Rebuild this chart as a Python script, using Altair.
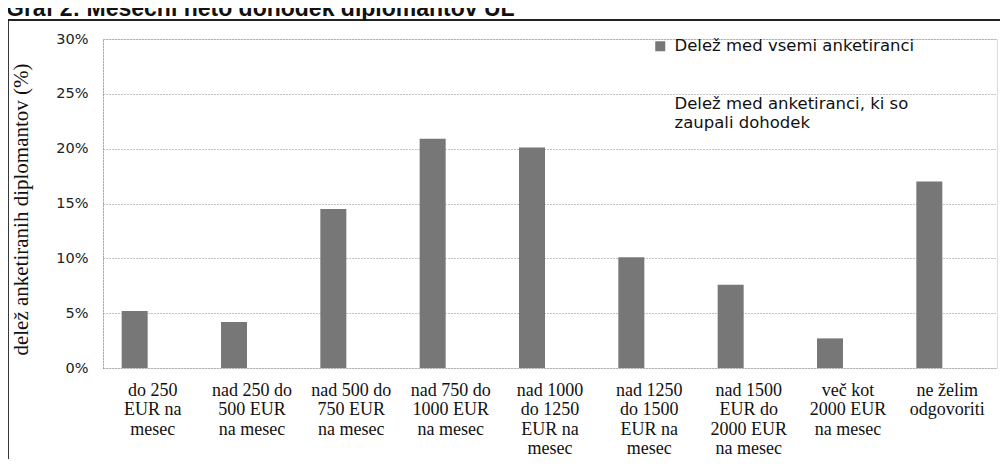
import altair as alt
import pandas as pd

title_text = "Graf 2: Mesečni neto dohodek diplomantov UL"

categories = [
    "do 250\nEUR na\nmesec",
    "nad 250 do\n500 EUR\nna mesec",
    "nad 500 do\n750 EUR\nna mesec",
    "nad 750 do\n1000 EUR\nna mesec",
    "nad 1000\ndo 1250\nEUR na\nmesec",
    "nad 1250\ndo 1500\nEUR na\nmesec",
    "nad 1500\nEUR do\n2000 EUR\nna mesec",
    "več kot\n2000 EUR\nna mesec",
    "ne želim\nodgovoriti",
]
values_all = [5.2, 4.2, 14.5, 20.9, 20.1, 10.1, 7.6, 2.7, 17.0]

series_names = [
    "Delež med vsemi anketiranci",
    "Delež med anketiranci, ki so zaupali dohodek",
]
y_ticks = [0, 5, 10, 15, 20, 25, 30]
y_title = "delež anketiranih diplomantov (%)"

df = pd.DataFrame({
    "kategorija": categories,
    "delez": values_all,
    "serija": [series_names[0]] * len(categories),
})

legend_label_expr = (
    "datum.label == 'Delež med anketiranci, ki so zaupali dohodek' ? "
    "['Delež med anketiranci, ki so', 'zaupali dohodek'] : datum.label"
)

bars = alt.Chart(df).mark_bar(size=26, xOffset=-18).encode(
    x=alt.X(
        "kategorija:N",
        sort=categories,
        scale=alt.Scale(paddingInner=0, paddingOuter=0),
        axis=alt.Axis(
            title=None,
            labelAngle=0,
            labelExpr="split(datum.value, '\\n')",
            labelFont="Liberation Serif",
            labelFontSize=18,
            labelLineHeight=19.5,
            labelColor="#111111",
            labelPadding=13,
            labelBaseline="top",
            labelLimit=200,
            ticks=False,
            domain=False,
            grid=False,
        ),
    ),
    y=alt.Y(
        "delez:Q",
        scale=alt.Scale(domain=[0, 30], nice=False),
        axis=alt.Axis(
            title=y_title,
            values=y_ticks,
            labelExpr="datum.value + '%'",
            labelFont="DejaVu Sans",
            labelFontSize=14.5,
            labelColor="#222222",
            labelPadding=15,
            ticks=False,
            domain=True,
            domainColor="#777777",
            domainDash=[1, 2],
            grid=True,
            gridColor="#888888",
            gridDash=[1, 2],
            gridWidth=1,
            titleFont="Liberation Serif",
            titleFontSize=21,
            titleFontWeight="normal",
            titleColor="#111111",
            titlePadding=24,
            titleY=170,
        ),
    ),
    color=alt.Color(
        "serija:N",
        scale=alt.Scale(domain=series_names, range=["#777777", "#ffffff"]),
        legend=alt.Legend(
            title=None,
            orient="none",
            legendX=549,
            legendY=-1,
            symbolType="square",
            symbolSize=100,
            symbolStrokeWidth=0,
            labelFont="DejaVu Sans",
            labelFontSize=16.5,
            labelColor="#111111",
            labelOffset=6,
            labelLimit=400,
            rowPadding=41,
            labelExpr=legend_label_expr,
        ),
    ),
)

title_df = pd.DataFrame({"t": [title_text]})
title_mark = alt.Chart(title_df).mark_text(
    align="left",
    baseline="alphabetic",
    font="Liberation Sans",
    fontSize=23,
    fontWeight="bold",
    color="#111111",
).encode(text="t:N", x=alt.value(-97), y=alt.value(-23))

frame = alt.Chart(title_df).mark_rect(
    fill=None, stroke="#222222", strokeWidth=1.8
).encode(
    x=alt.value(-95), x2=alt.value(907), y=alt.value(-19), y2=alt.value(427)
)

chart = alt.layer(bars, frame, title_mark).properties(
    width=894,
    height=329,
    autosize=alt.AutoSizeParams(type="none"),
    padding={"left": 95, "top": 31, "right": 3, "bottom": 91},
).configure_view(stroke=None).configure(background="white")

chart.save("out.html", embed_options={"renderer": "svg", "actions": False})
